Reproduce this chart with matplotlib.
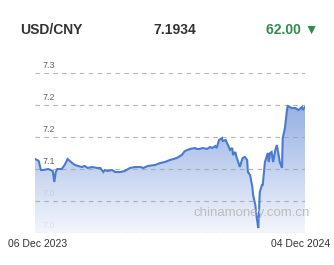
import matplotlib
matplotlib.use("Agg")
import matplotlib.pyplot as plt
import numpy as np
from matplotlib.colors import LinearSegmentedColormap

plt.rcParams["font.family"] = ["Liberation Sans", "DejaVu Sans"]

# day offsets from 06 Dec 2023 and USD/CNY central parity values
days = [0, 3, 5, 8, 11, 18, 24, 26, 28, 30, 36, 40, 44, 47, 50, 54, 58, 63, 67, 71,
        77, 84, 88, 92, 94, 98, 104, 108, 115, 121, 128, 135, 142, 146, 152, 162, 169, 175,
        182, 191, 198, 202, 209, 216, 218, 222, 226, 232, 236, 239, 243, 245, 248, 252, 253,
        257, 260, 263, 266, 267, 270, 272, 274, 276, 279, 280, 283, 286, 287, 290, 293, 294,
        297, 299, 301, 302, 303, 306, 307, 310, 313, 314, 315, 317, 319, 321, 324, 326, 328,
        330, 333, 334, 337, 340, 341, 346, 351, 355, 360, 361, 364]
rates = [7.1156, 7.1141, 7.1125, 7.0984, 7.0984, 7.1000, 7.0969, 7.0797, 7.0953, 7.1000,
         7.1000, 7.1063, 7.1156, 7.1125, 7.1094, 7.1063, 7.1047, 7.1031, 7.1047, 7.1016,
         7.1031, 7.1016, 7.1016, 7.0953, 7.0984, 7.0969, 7.0984, 7.0953, 7.0953, 7.0969,
         7.1016, 7.1031, 7.1031, 7.1016, 7.1047, 7.1063, 7.1094, 7.1109,
         7.1141, 7.1172, 7.1219, 7.1281, 7.1313, 7.1328, 7.1313, 7.1313, 7.1328, 7.1313,
         7.1344, 7.1328, 7.1359, 7.1328, 7.1453, 7.1484, 7.1438, 7.1453, 7.1375, 7.1297,
         7.1328, 7.1219, 7.1266, 7.1172, 7.1109, 7.1031, 7.1141, 7.1172, 7.1188, 7.1141,
         7.0953, 7.0906, 7.0719, 7.0594, 7.0438, 7.0234, 7.0078, 7.0328, 7.0641, 7.0750,
         7.0750, 7.1109, 7.1219, 7.1250, 7.1109, 7.1250, 7.1266, 7.1109, 7.1297, 7.1375,
         7.1250, 7.1109, 7.1016, 7.1484, 7.1641, 7.1953, 7.1984, 7.1953, 7.1953, 7.1922,
         7.1969, 7.1922, 7.1969]

tick_values = [7.00, 7.05, 7.10, 7.15, 7.20, 7.25]
tick_labels = ["7.0", "7.0", "7.1", "7.2", "7.2", "7.3"]
start_label = "06 Dec 2023"
end_label = "04 Dec 2024"
pair = "USD/CNY"
last_rate = "7.1934"
change = "62.00 \u25BC"

W, H = 334, 265
fig = plt.figure(figsize=(W / 100, H / 100), dpi=100)
fig.patch.set_facecolor("white")

ax = fig.add_axes([35 / W, 1 - 233 / H, 270 / W, 160 / H])
ax.set_xlim(0, 364)
ax.set_ylim(7.00, 7.25)
ax.axis("off")

# in-plot labels (sit under the fill, like the original)
for v, lab in zip(tick_values, tick_labels):
    ax.text(10, v + 0.004, lab, fontsize=6.5, color="#666666", ha="left", va="bottom", zorder=1)

# gradient fill under the line
cmap = LinearSegmentedColormap.from_list("fill", ["#f2f5fc", "#6f95db"])
grad = np.linspace(0, 1, 256).reshape(-1, 1)
img = ax.imshow(grad, extent=[0, 364, 7.00, 7.25], origin="lower", aspect="auto",
                cmap=cmap, alpha=0.9, zorder=2)
poly = ax.fill_between(days, rates, 7.00, color="none", lw=0)
img.set_clip_path(poly.get_paths()[0], transform=ax.transData)

# dashed grid lines
for v in tick_values:
    ax.axhline(v, color="#a0a0a0", lw=0.8, ls=(0, (4, 4)), alpha=0.8, zorder=2.5)

ax.plot(days, rates, color="#4a7bd0", lw=1.5, zorder=3, solid_joinstyle="miter")

# watermark
fig.text(252 / W, 1 - 213 / H, "chinamoney.com.cn", fontsize=9.5, color="#b5b5b5",
         ha="center", va="center", alpha=0.85)

# header
fig.text(20 / W, 1 - 30 / H, pair, fontsize=10, fontweight="bold", color="#333333",
         ha="left", va="center")
fig.text(175 / W, 1 - 30 / H, last_rate, fontsize=10, fontweight="bold", color="#333333",
         ha="center", va="center")
fig.text(318 / W, 1 - 30 / H, change, fontsize=10, fontweight="bold", color="#2e8b4e",
         ha="right", va="center", family=["Liberation Sans", "DejaVu Sans"])

# date labels
fig.text(8 / W, 1 - 244 / H, start_label, fontsize=7.5, color="#333333", ha="left", va="center")
fig.text(330 / W, 1 - 244 / H, end_label, fontsize=7.5, color="#333333", ha="right", va="center")

fig.savefig("out.png", dpi=100, facecolor="white")
